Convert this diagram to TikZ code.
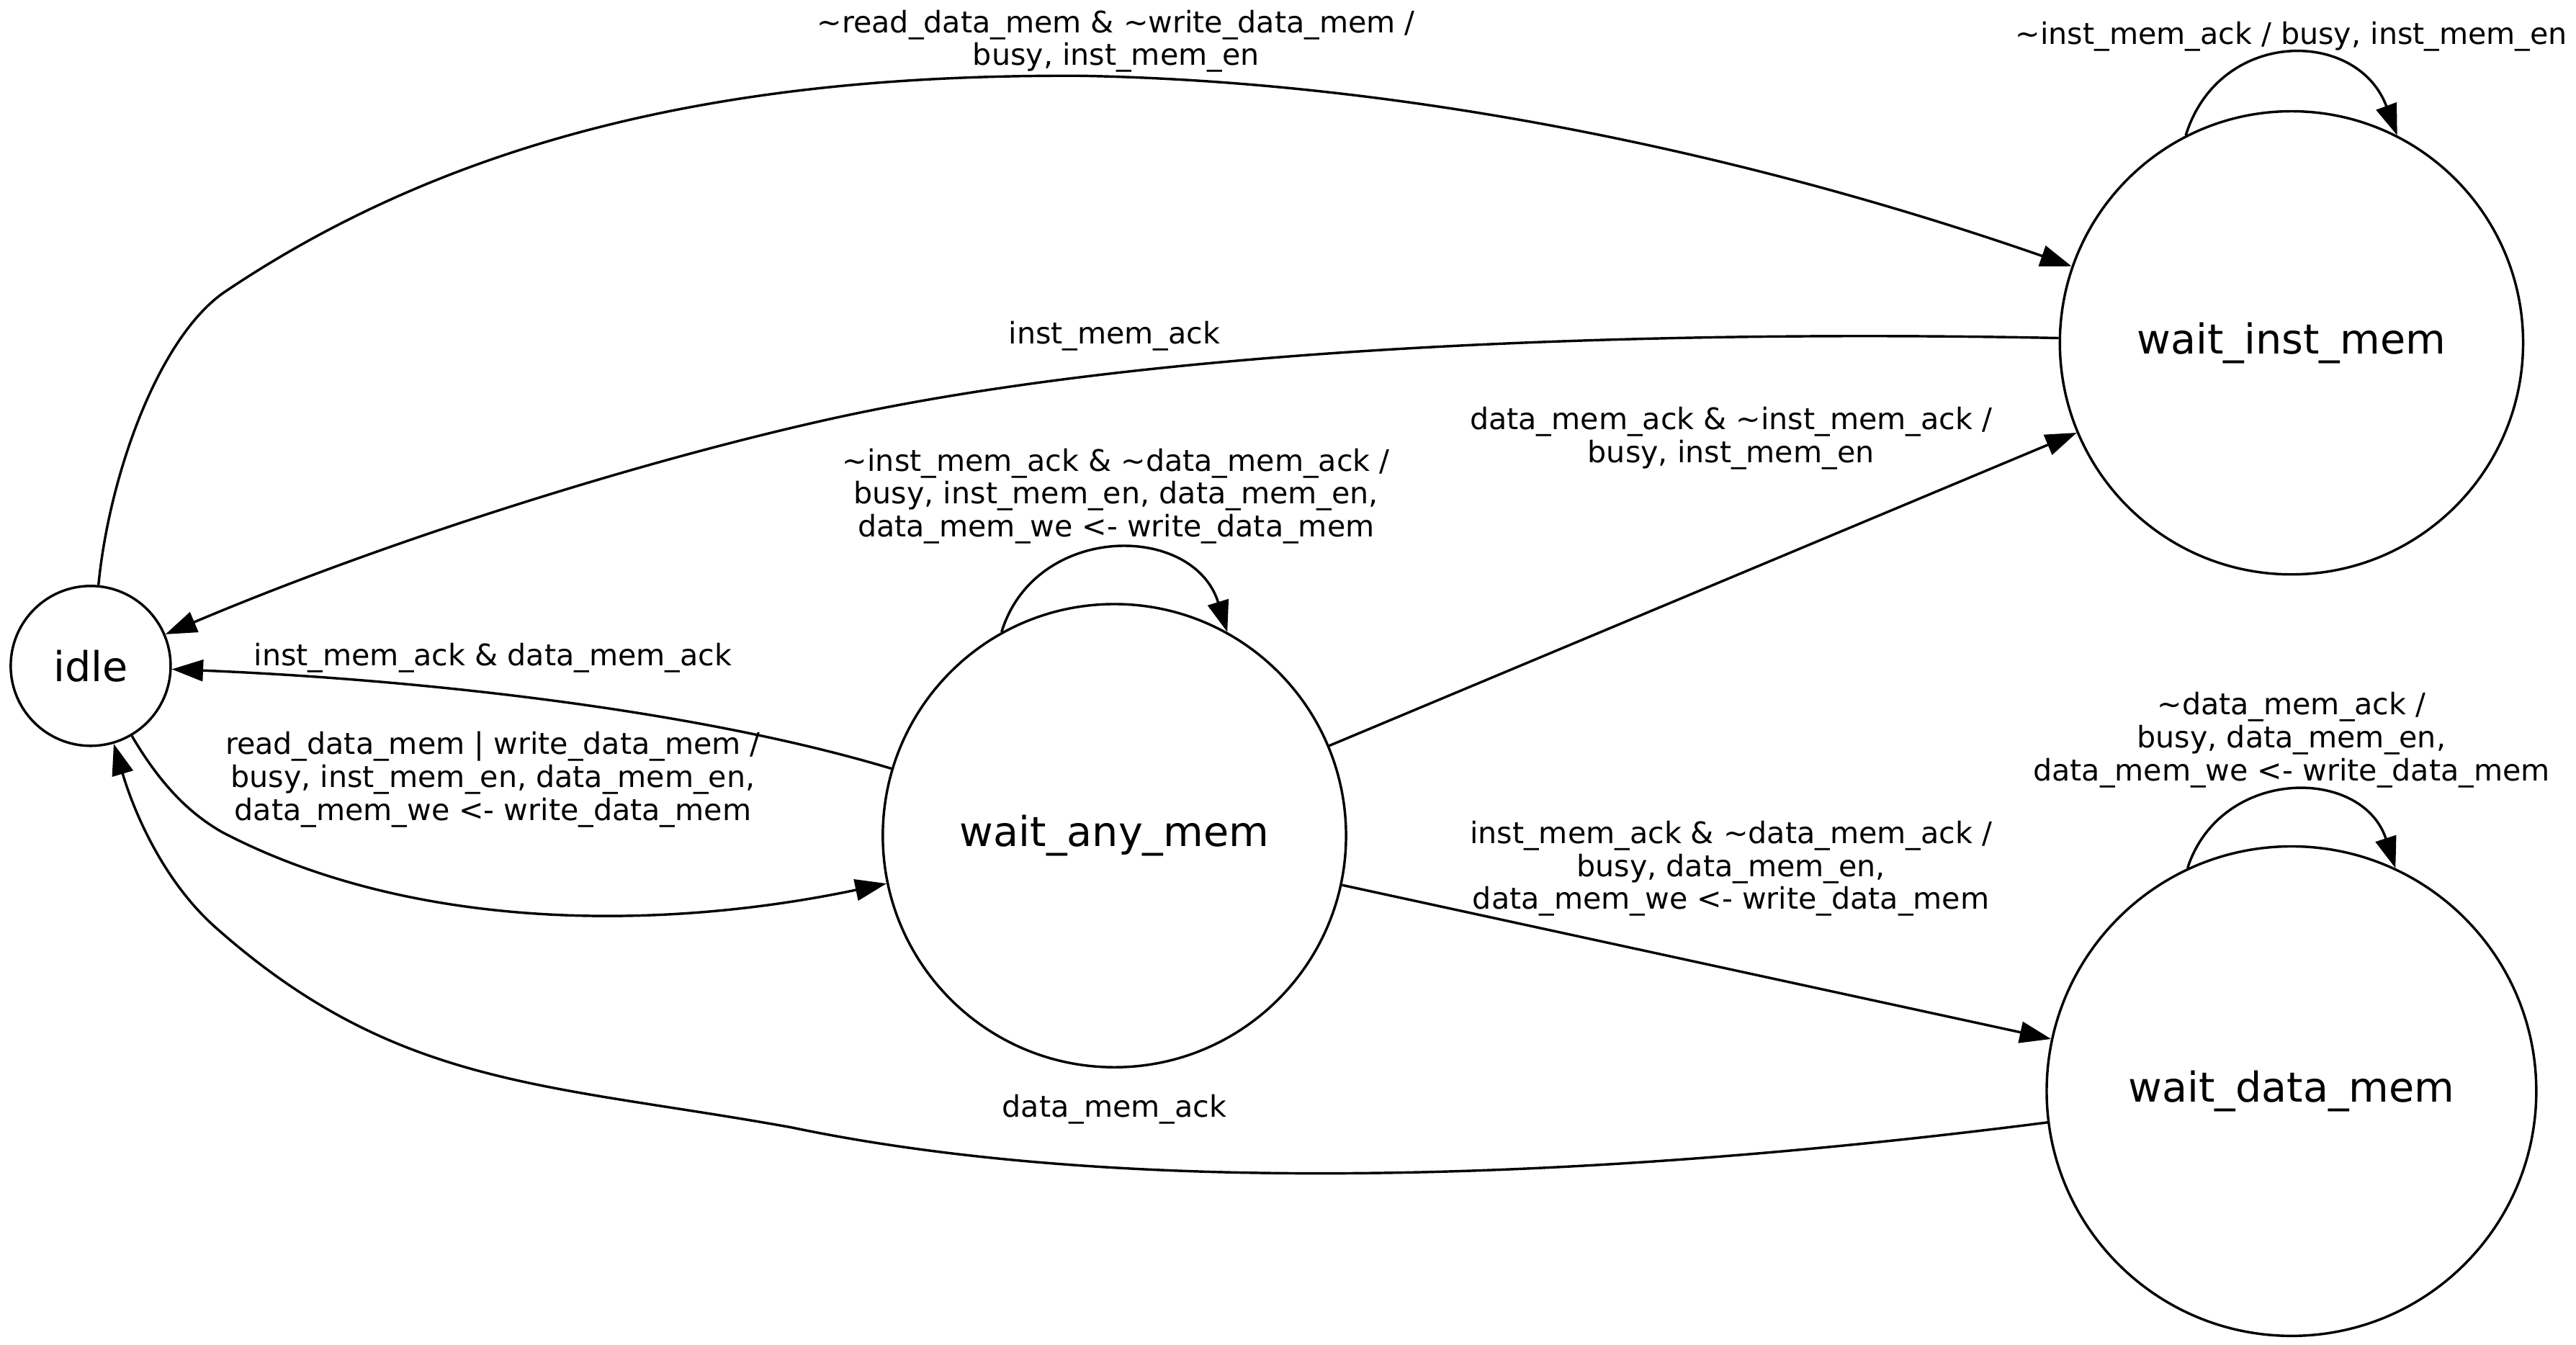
\documentclass[tikz,border=0pt]{standalone}
\usepackage{fontspec}
\setmainfont{DejaVu Sans}
\usetikzlibrary{arrows.meta}
\begin{document}
\begin{tikzpicture}[x=1pt, y=-1pt]
  \useasboundingbox (0,0) rectangle (1562.6,816);  % Rand wie im Original.
  \tikzstyle{state}=[circle, draw, line width=1.5pt, inner sep=0pt, fill=white, font=\fontsize{25}{28}\selectfont]
  \tikzstyle{trans}=[line width=1.5pt, -{Triangle[length=19pt, width=13pt]}]
  \tikzstyle{cond}=[align=center, inner sep=0pt, font=\fontsize{18}{20}\selectfont]

  \node[state, minimum size=97pt]  (idle)  at (55, 404)   {idle};
  \node[state, minimum size=281pt] (winst) at (1390, 208) {wait\_inst\_mem};
  \node[state, minimum size=281pt] (wany)  at (676, 507)  {wait\_any\_mem};
  \node[state, minimum size=297pt] (wdata) at (1390, 662) {wait\_data\_mem};

  \node[cond] (c1)  at (677, 25)   {\textasciitilde read\_data\_mem \& \textasciitilde write\_data\_mem /\\busy, inst\_mem\_en};
  \node[cond] (c2)  at (676, 204)  {inst\_mem\_ack};
  \node[cond] (c3)  at (677, 301)  {\textasciitilde inst\_mem\_ack \& \textasciitilde data\_mem\_ack /\\busy, inst\_mem\_en, data\_mem\_en,\\data\_mem\_we <- write\_data\_mem};
  \node[cond] (c4)  at (299, 399)  {inst\_mem\_ack \& data\_mem\_ack};
  \node[cond] (c5)  at (299, 473)  {read\_data\_mem | write\_data\_mem /\\busy, inst\_mem\_en, data\_mem\_en,\\data\_mem\_we <- write\_data\_mem};
  \node[cond] (c6)  at (1050, 266) {data\_mem\_ack \& \textasciitilde inst\_mem\_ack /\\busy, inst\_mem\_en};
  \node[cond] (c7)  at (1050, 527) {inst\_mem\_ack \& \textasciitilde data\_mem\_ack /\\busy, data\_mem\_en,\\data\_mem\_we <- write\_data\_mem};
  \node[cond] (c8)  at (676, 673)  {data\_mem\_ack};
  \node[cond] (c9)  at (1390, 22)  {\textasciitilde inst\_mem\_ack / busy, inst\_mem\_en};
  \node[cond] (c10) at (1390, 449) {\textasciitilde data\_mem\_ack /\\busy, data\_mem\_en,\\data\_mem\_we <- write\_data\_mem};

  \draw[trans] (idle) .. controls (66, 290) and (95, 207) .. (135, 178)
    .. controls (290, 73) and (470, 45) .. (656, 46)
    .. controls (870, 50) and (1080, 100) .. (winst);
  \draw[trans] (winst) .. controls (1000, 200) and (700, 210) .. (500, 255)
    .. controls (380, 282) and (230, 330) .. (idle);
  \draw[trans] (wany) .. controls (420, 430) and (250, 412) .. (idle);
  \draw[trans] (idle) .. controls (95, 472) and (112, 492) .. (135, 505)
    .. controls (250, 565) and (400, 565) .. (wany);
  \draw[trans] (wdata) .. controls (1000, 712) and (700, 730) .. (480, 684)
    .. controls (330, 657) and (240, 660) .. (130, 562)
    .. controls (100, 535) and (82, 495) .. (idle);
  \draw[trans] (wany) -- (winst);
  \draw[trans] (wany) -- (wdata);

  \draw[trans] (wany.119) .. controls (628, 317) and (724, 317) .. (wany.61);
  \draw[trans] (winst.117) .. controls (1346, 17) and (1430, 17) .. (winst.63);
  \draw[trans] (wdata.115) .. controls (1347, 465) and (1433, 465) .. (wdata.65);
\end{tikzpicture}
\end{document}
